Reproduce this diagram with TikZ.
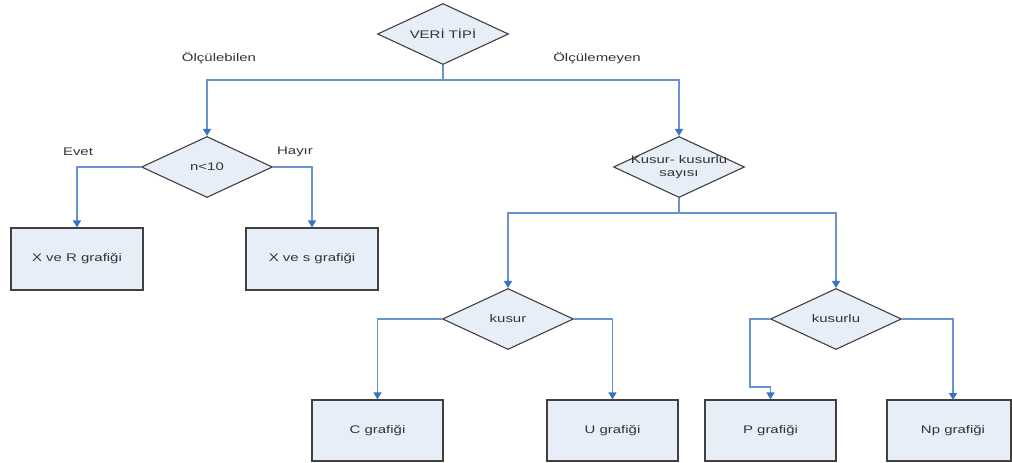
\documentclass[tikz,border=0pt]{standalone}
\usepackage{fontspec}
\setmainfont[FakeStretch=1.36]{Liberation Sans}
\usetikzlibrary{shapes.geometric,arrows.meta}
\definecolor{boxfill}{RGB}{232,238,247}
\definecolor{boxdraw}{RGB}{64,64,64}
\definecolor{linkblue}{RGB}{104,148,210}
\definecolor{tipblue}{RGB}{58,114,196}
\tikzset{
  dia/.style={diamond, draw=boxdraw, fill=boxfill, line width=1.1pt, inner sep=0pt,
    minimum width=131pt, minimum height=61pt, aspect=2.15},
  box/.style={rectangle, draw=boxdraw, fill=boxfill, line width=1.2pt, inner sep=0pt},
  txt/.style={font=\fontsize{11}{13.5}\selectfont, text=black!80, align=center, inner sep=0pt},
  link/.style={draw=linkblue, line width=1.3pt},
  arr/.style={link, -{Triangle[length=7pt,width=8pt,color=tipblue]}},
}
\begin{document}
\begin{tikzpicture}[x=1pt,y=-1pt]
\useasboundingbox (0,0) rectangle (1012,463);
% diamonds
\node[dia] (d0) at (443,34) {};
\node[txt] (t0) at (d0) {VERİ TİPİ};
\node[dia] (d1) at (207,167) {};
\node[txt] (t1) at (d1) {n<10};
\node[dia] (d2) at (679,167) {};
\node[txt] (t2) at (679,167) {Kusur- kusurlu\\sayısı};
\node[dia] (d3) at (508,319) {};
\node[txt] (t3) at (d3) {kusur};
\node[dia] (d4) at (836,319) {};
\node[txt] (t4) at (d4) {kusurlu};
% boxes
\node[box, minimum width=132pt, minimum height=62pt] (b1) at (77,259) {};
\node[txt] at (b1) {X ve R grafiği};
\node[box, minimum width=132pt, minimum height=62pt] (b2) at (312,259) {};
\node[txt] at (b2) {X ve s grafiği};
\node[box, minimum width=131pt, minimum height=61pt] (b3) at (377.5,430.5) {};
\node[txt] at (b3) {C grafiği};
\node[box, minimum width=131pt, minimum height=61pt] (b4) at (612.5,430.5) {};
\node[txt] at (b4) {U grafiği};
\node[box, minimum width=131pt, minimum height=61pt] (b5) at (770.5,430.5) {};
\node[txt] at (b5) {P grafiği};
\node[box, minimum width=124pt, minimum height=61pt] (b6) at (949,430.5) {};
\node[txt] at (953,430.5) {Np grafiği};
% junction coordinates
\coordinate (j0) at (443,80);
\coordinate (j2) at (679,213);
\coordinate (pL) at (750,387);
% connectors
\draw[link] (d0.south) -- (j0);
\draw[arr] (j0) -| (d1.north);
\draw[arr] (j0) -| (d2.north);
\draw[arr] (d1.west) -| (b1.north);
\draw[arr] (d1.east) -| (b2.north);
\draw[link] (d2.south) -- (j2);
\draw[arr] (j2) -| (d3.north);
\draw[arr] (j2) -| (d4.north);
\draw[arr] (d3.west) -| (b3.north);
\draw[arr] (d3.east) -| (b4.north);
\draw[arr] (d4.west) -| (pL) -| (b5.north);
\draw[arr] (d4.east) -| (953,400);
% branch labels
\node[txt] (l1) at (219,58) {Ölçülebilen};
\node[txt] (l2) at (597,58) {Ölçülemeyen};
\node[txt] (l3) at (78,152) {Evet};
\node[txt] (l4) at (295,152) {Hayır};
\end{tikzpicture}
\end{document}
